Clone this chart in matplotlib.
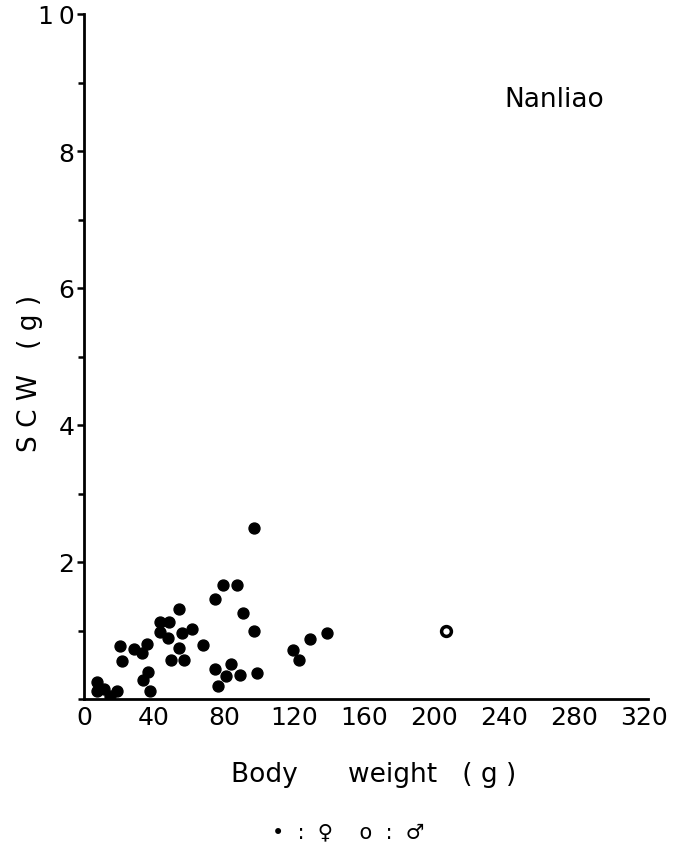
import numpy as np
import matplotlib.pyplot as plt
from matplotlib.ticker import MultipleLocator

# data (Nanliao)
female_bw = [7.4, 7.4, 11.4, 14.9, 18.9, 20.6, 21.5, 28.6, 33.0, 33.9,
             36.7, 37.7, 36.2, 43.4, 48.7, 43.4, 47.8, 54.3, 55.8, 61.5,
             54.3, 49.5, 57.3, 68.2, 74.9, 79.6, 87.3, 91.0, 97.1, 83.8,
             74.9, 81.0, 89.1, 98.7, 76.7, 97.1, 138.7, 129.1, 119.3, 122.9]
female_scw = [0.25, 0.12, 0.15, 0.04, 0.12, 0.77, 0.56, 0.73, 0.67, 0.28,
              0.39, 0.12, 0.81, 1.12, 1.12, 0.98, 0.89, 1.31, 0.96, 1.02,
              0.74, 0.57, 0.57, 0.79, 1.46, 1.66, 1.66, 1.25, 1.00, 0.51,
              0.44, 0.33, 0.35, 0.38, 0.19, 2.50, 0.96, 0.88, 0.72, 0.57]
male_bw = [206.5]
male_scw = [0.99]

x_ticks = [0, 40, 80, 120, 160, 200, 240, 280, 320]
y_ticks = [2, 4, 6, 8, 10]
y_ticklabels = ['2', '4', '6', '8', '1\u20090']

W, H = 676, 853
fig = plt.figure(figsize=(W / 100, H / 100), dpi=100)
# axes placed in pixel terms: y axis at x=84, x axis at y=700
left, right, top, bottom = 84, 648, 15, 700
ax = fig.add_axes([left / W, 1 - bottom / H, (right - left) / W, (bottom - top) / H])

ax.scatter(female_bw, female_scw, s=62, c='black', edgecolors='black', zorder=3)
ax.scatter(male_bw, male_scw, s=50, facecolors='white', edgecolors='black',
           linewidths=2.5, zorder=3)

ax.set_xlim(0, 322)
ax.set_ylim(0, 10)
for side in ['top', 'right']:
    ax.spines[side].set_visible(False)
for side in ['left', 'bottom']:
    ax.spines[side].set_linewidth(2.0)

ax.set_xticks(x_ticks)
ax.set_xticklabels([str(v) for v in x_ticks])
ax.set_yticks(y_ticks)
ax.set_yticklabels(y_ticklabels)
ax.yaxis.set_minor_locator(MultipleLocator(1))
ax.tick_params(axis='x', length=0, pad=4, labelsize=18)
ax.tick_params(axis='y', which='major', length=5, width=1.8, pad=2, labelsize=18)
ax.tick_params(axis='y', which='minor', length=4, width=1.8)

fig.text(30 / W, 1 - 373 / H, 'S C W   ( g )', rotation=90, fontsize=19,
         ha='center', va='center')
fig.text(374 / W, 1 - 775 / H, 'Body      weight   ( g )', fontsize=19,
         ha='center', va='center')
fig.text(348 / W, 1 - 832 / H, '\u2022  :  \u2640    o  :  \u2642', fontsize=15,
         ha='center', va='center')
fig.text(554 / W, 1 - 100 / H, 'Nanliao', fontsize=19, ha='center', va='center')

fig.savefig('out.png', dpi=100)
